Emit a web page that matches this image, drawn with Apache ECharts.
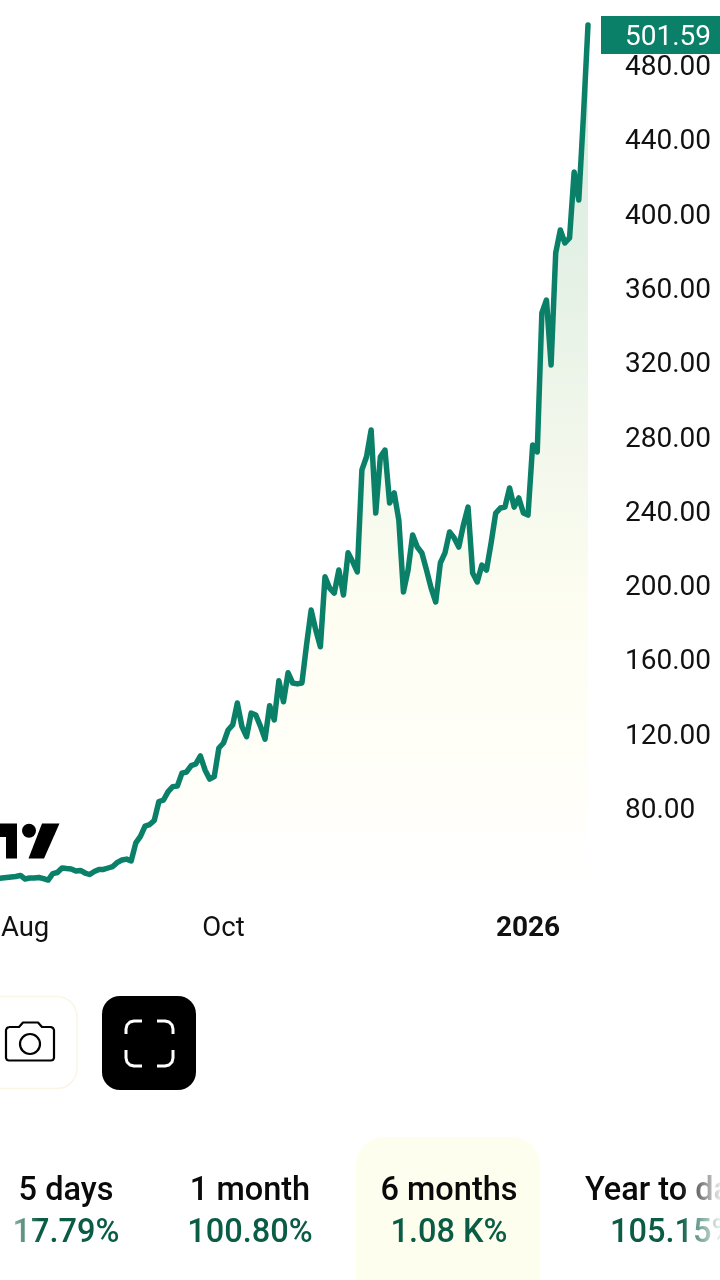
<!DOCTYPE html>
<html>
<head>
<meta charset="utf-8">
<style>
  html, body { margin: 0; padding: 0; background: #fff; }
  #main { width: 720px; height: 1280px; }
</style>
</head>
<body>
<div id="main"></div>
<script src="https://cdn.jsdelivr.net/npm/echarts@6/dist/echarts.min.js"></script>
<script>
const FONT = 'Roboto';
const GREEN = '#0a8068';

// one value per weekday, from 2025-07-24
const startDate = '2025-07-24';
const prices = [
  42.0, 42.3, 42.6, 42.9, 43.1, 43.7, 41.8, 42.3, 42.3, 42.6,
  42.0, 41.2, 44.7, 45.3, 47.7, 47.4, 47.2, 46.1, 46.4, 45.0,
  44.2, 45.8, 46.9, 46.9, 47.7, 48.5, 50.7, 52.0, 52.5, 51.5,
  61.2, 64.7, 70.3, 71.1, 73.3, 83.5, 84.3, 88.8, 91.5, 91.8,
  98.8, 99.4, 102.8, 103.7, 108.0, 100.5, 95.6, 96.9, 112.3, 115.0,
  122.0, 124.7, 136.5, 123.8, 118.4, 131.1, 130.1, 124.1, 117.1, 135.1,
  127.4, 148.5, 137.2, 152.8, 147.3, 146.8, 147.3, 167.8, 186.6, 175.8,
  166.8, 204.5, 198.4, 195.7, 208.1, 194.7, 217.4, 212.6, 207.1, 262.0,
  269.1, 283.5, 238.8, 269.1, 272.7, 244.2, 249.6, 235.0, 196.3, 208.1,
  227.0, 220.5, 217.3, 208.1, 198.4, 190.9, 211.9, 217.3, 228.6, 225.4,
  220.5, 232.4, 242.0, 206.5, 201.7, 210.8, 208.1, 222.7, 238.8, 241.5,
  242.0, 252.3, 242.0, 246.9, 238.8, 237.7, 275.4, 271.7, 346.5, 353.5,
  318.5, 378.8, 391.2, 384.2, 386.9, 422.4, 407.3, 452.0, 501.59
];
const monthLabels = { '2025-08-01': 'Aug', '2025-10-01': 'Oct', '2026-01-01': '2026' };
const yTickLabels = ['80.00', '120.00', '160.00', '200.00', '240.00', '280.00', '320.00', '360.00', '400.00', '440.00', '480.00'];
const lastPriceLabel = '501.59';

const periodNames = ['5 days', '1 month', '6 months', 'Year to date'];
const periodChanges = ['17.79%', '100.80%', '1.08 K%', '105.15%'];

// weekdays only, the axis has no weekend gaps
const dates = [];
const d = new Date(startDate + 'T00:00:00Z');
while (dates.length < prices.length) {
  if (d.getUTCDay() !== 0 && d.getUTCDay() !== 6) dates.push(d.toISOString().slice(0, 10));
  d.setUTCDate(d.getUTCDate() + 1);
}

function tabText(x, y, text, fill, align) {
  return {
    type: 'text', x: x, y: y,
    style: { text: text, fill: fill, font: '500 32.5px ' + FONT, align: align || 'center', verticalAlign: 'middle' }
  };
}

function stroke(points, color, width) {
  return {
    type: 'polyline',
    shape: { points: points },
    style: { fill: 'none', stroke: color, lineWidth: width, lineJoin: 'round' }
  };
}

const tabs = [
  { type: 'rect', shape: { x: 356, y: 1137, width: 184, height: 170, r: 28 }, style: { fill: '#fefeee' } },
  tabText(66, 1192, periodNames[0], '#0a0a0a'),
  tabText(66, 1234, periodChanges[0], '#0b5c45'),
  tabText(250, 1192, periodNames[1], '#0a0a0a'),
  tabText(250, 1234, periodChanges[1], '#0b5c45'),
  tabText(449, 1192, periodNames[2], '#0a0a0a'),
  tabText(449, 1234, periodChanges[2], '#0b5c45'),
  tabText(585, 1192, periodNames[3], '#0a0a0a', 'left'),
  tabText(610, 1234, periodChanges[3], '#0b5c45', 'left'),
  // row fades out at both edges
  { type: 'rect', shape: { x: 0, y: 1212, width: 40, height: 40 }, style: { fill: {
    type: 'linear', x: 0, y: 0, x2: 1, y2: 0,
    colorStops: [{ offset: 0, color: 'rgba(255,255,255,0.8)' }, { offset: 1, color: 'rgba(255,255,255,0)' }]
  } } },
  { type: 'rect', shape: { x: 680, y: 1165, width: 40, height: 85 }, style: { fill: {
    type: 'linear', x: 0, y: 0, x2: 1, y2: 0,
    colorStops: [{ offset: 0, color: 'rgba(255,255,255,0)' }, { offset: 1, color: 'rgba(255,255,255,0.9)' }]
  } } }
];

const logo = [
  { type: 'polygon', shape: { points: [[-2, 823.5], [17, 823.5], [17, 858.5], [6, 858.5], [6, 837], [-2, 837]] }, style: { fill: '#000' } },
  { type: 'circle', shape: { cx: 29, cy: 830.7, r: 7 }, style: { fill: '#000' } },
  { type: 'polygon', shape: { points: [[42, 823.5], [59.5, 823.5], [44, 858.5], [28.5, 858.5]] }, style: { fill: '#000' } }
];

const buttons = [
  { type: 'rect', shape: { x: -30, y: 996.5, width: 107, height: 92, r: 20 }, style: { fill: '#fff', stroke: '#faf6e6', lineWidth: 1.5 } },
  // camera
  stroke([[9, 1027], [19, 1027], [23, 1022.5], [38, 1022.5], [42, 1027], [51, 1027], [53, 1028], [54, 1030], [54, 1058], [53, 1060], [51, 1060.5], [9, 1060.5], [7, 1060], [6, 1058], [6, 1030], [7, 1028], [9, 1027]], '#000', 2.2),
  { type: 'circle', shape: { cx: 30, cy: 1044, r: 10 }, style: { fill: 'none', stroke: '#000', lineWidth: 2.2 } },
  // fullscreen
  { type: 'rect', shape: { x: 102, y: 996, width: 94, height: 94, r: 18 }, style: { fill: '#000' } },
  stroke([[142, 1021], [134, 1021], [130, 1022], [127, 1025], [126, 1029], [126, 1034]], '#fff', 3),
  stroke([[157, 1021], [165, 1021], [169, 1022], [172, 1025], [173, 1029], [173, 1034]], '#fff', 3),
  stroke([[142, 1066], [134, 1066], [130, 1065], [127, 1062], [126, 1058], [126, 1050]], '#fff', 3),
  stroke([[157, 1066], [165, 1066], [169, 1065], [172, 1062], [173, 1058], [173, 1050]], '#fff', 3)
];

const priceTag = [
  { type: 'rect', shape: { x: 601, y: 16, width: 119, height: 38 }, style: { fill: GREEN } },
  { type: 'text', x: 625, y: 37.5, style: { text: lastPriceLabel, fill: '#fff', font: '28px ' + FONT, verticalAlign: 'middle' } }
];

const chart = echarts.init(document.getElementById('main'), null, { renderer: 'canvas' });
chart.setOption({
  animation: false,
  backgroundColor: '#fff',
  grid: { left: -2.6, top: 9.3, width: 590.6, height: 873, outerBoundsMode: 'none' },
  xAxis: {
    type: 'category',
    data: dates,
    boundaryGap: false,
    axisLine: { show: false },
    axisTick: { show: false },
    splitLine: { show: false },
    axisLabel: {
      interval: function (i, v) { return monthLabels[v] !== undefined; },
      hideOverlap: false,
      margin: 33,
      formatter: function (v) {
        const t = monthLabels[v];
        return t === '2026' ? '{year|' + t + '}' : t;
      },
      color: '#111',
      fontFamily: FONT,
      fontSize: 27.5,
      rich: { year: { fontFamily: FONT, fontSize: 28, fontWeight: 'bold', color: '#111' } }
    }
  },
  yAxis: {
    type: 'value',
    position: 'right',
    min: 40,
    max: 510,
    interval: 40,
    axisLine: { show: false },
    axisTick: { show: false },
    splitLine: { show: false },
    axisLabel: {
      margin: 37,
      color: '#111',
      fontFamily: FONT,
      fontSize: 28,
      formatter: function (v) {
        return yTickLabels.indexOf(v.toFixed(2)) >= 0 ? '{t|' + v.toFixed(2) + '}' : '';
      },
      rich: { t: { fontFamily: FONT, fontSize: 28, color: '#111', padding: [6, 0, 0, 0] } }
    }
  },
  series: [{
    type: 'line',
    data: prices,
    showSymbol: false,
    smooth: false,
    clip: false,
    lineStyle: { color: GREEN, width: 5.5, join: 'round', cap: 'round' },
    areaStyle: {
      origin: 'start',
      color: {
        type: 'linear', x: 0, y: 0, x2: 0, y2: 1,
        colorStops: [
          { offset: 0, color: '#c9e3d3' },
          { offset: 0.25, color: '#d6e9d9' },
          { offset: 0.5, color: '#eef4e3' },
          { offset: 0.68, color: '#fdfdec' },
          { offset: 0.9, color: '#fffef7' },
          { offset: 1, color: '#ffffff' }
        ]
      }
    },
    z: 2
  }],
  graphic: { elements: [].concat(logo, buttons, tabs, priceTag) }
});
</script>
</body>
</html>
